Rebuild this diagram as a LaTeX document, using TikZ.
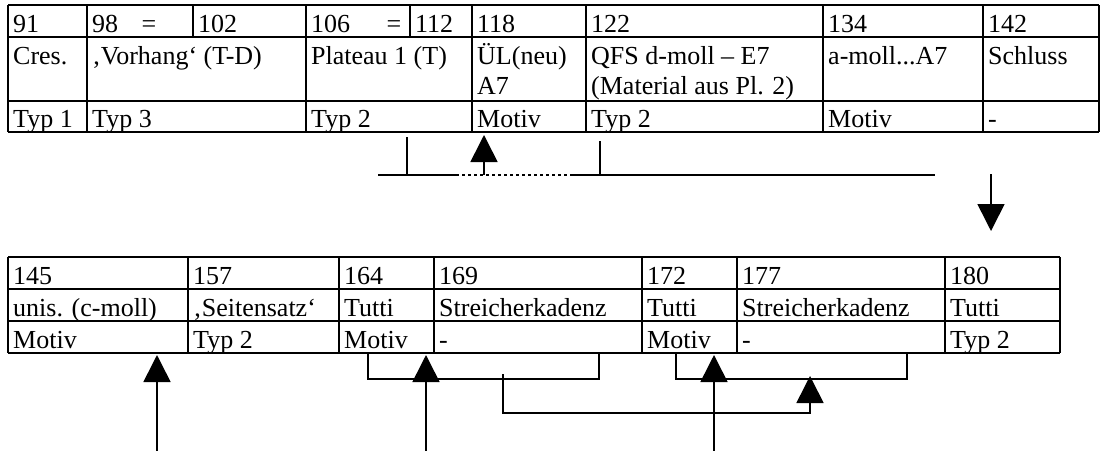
\documentclass[tikz,border=0pt]{standalone}
\usepackage{fontspec}
\setmainfont{Liberation Serif}
\usetikzlibrary{arrows.meta}
\tikzset{
  txt/.style={anchor=base west, inner sep=0pt, font=\fontsize{26}{30}\selectfont},
  grid/.style={line width=1.1pt, black},
  conn/.style={line width=1.6pt, black},
  dotconn/.style={line width=1.6pt, black, dash pattern=on 3pt off 3pt},
  tip/.style={-{Triangle[width=27pt,length=27pt]}}
}
\begin{document}
\begin{tikzpicture}[x=1pt,y=-1pt]
\useasboundingbox (0,0) rectangle (1108,450);
% ---------- top table ----------
\foreach \yy in {5,37,101,132} \draw[grid] (8,\yy) -- (1099,\yy);
\foreach \xx in {8,87,306,472,586,823,983,1099} \draw[grid] (\xx,5) -- (\xx,132);
\foreach \xx in {193,410} \draw[grid] (\xx,5) -- (\xx,37);
% row 1
\node[txt] (a1) at (13,32) {91};
\node[txt] (a2) at (92,32) {98\hspace{0.9em}=};
\node[txt] (a3) at (198,32) {102};
\node[txt] (a4) at (311,32) {106\hspace{1.4em}=};
\node[txt] (a5) at (415,32) {112};
\node[txt] (a6) at (477,32) {118};
\node[txt] (a7) at (591,32) {122};
\node[txt] (a8) at (828,32) {134};
\node[txt] (a9) at (988,32) {142};
% row 2
\node[txt] (b1) at (13,64) {Cres.};
\node[txt] (b2) at (92,64) {‚Vorhang‘ (T-D)};
\node[txt] (b3) at (311,64) {Plateau 1 (T)};
\node[txt] (b4) at (477,64) {ÜL(neu)};
\node[txt] (b4b) at (477,94) {A7};
\node[txt] (b5) at (591,64) {QFS d-moll – E7};
\node[txt] (b5b) at (591,94) {(Material aus Pl. 2)};
\node[txt] (b6) at (828,64) {a-moll...A7};
\node[txt] (b7) at (988,64) {Schluss};
% row 3
\node[txt] (c1) at (13,127) {Typ 1};
\node[txt] (c2) at (92,127) {Typ 3};
\node[txt] (c3) at (311,127) {Typ 2};
\node[txt] (c4) at (477,127) {Motiv};
\node[txt] (c5) at (591,127) {Typ 2};
\node[txt] (c6) at (828,127) {Motiv};
\node[txt] (c7) at (988,127) {-};
% ---------- middle connectors ----------
\coordinate (h1) at (378,175);
\coordinate (h2) at (456,175);
\coordinate (h3) at (570,175);
\coordinate (h4) at (935,175);
\coordinate (k1t) at (407,137);
\coordinate (k1b) at (407,175);
\coordinate (k2t) at (600,141);
\coordinate (k2b) at (600,175);
\coordinate (u1b) at (484,175);
\coordinate (u1t) at (484,135);
\coordinate (d1t) at (991,174);
\coordinate (d1b) at (991,231);
\draw[conn] (h1) -- (h2);
\draw[dotconn] (h2) -- (h3);
\draw[conn] (h3) -- (h4);
\draw[conn] (k1t) -- (k1b);
\draw[conn] (k2t) -- (k2b);
\draw[conn,tip] (u1b) -- (u1t);
\draw[conn,tip] (d1t) -- (d1b);
% ---------- bottom table ----------
\foreach \yy in {257,289,321,353} \draw[grid] (8,\yy) -- (1060,\yy);
\foreach \xx in {8,188,339,434,642,737,945,1060} \draw[grid] (\xx,257) -- (\xx,353);
% row 1
\node[txt] (p1) at (13,284) {145};
\node[txt] (p2) at (193,284) {157};
\node[txt] (p3) at (344,284) {164};
\node[txt] (p4) at (439,284) {169};
\node[txt] (p5) at (647,284) {172};
\node[txt] (p6) at (742,284) {177};
\node[txt] (p7) at (950,284) {180};
% row 2
\node[txt] (q1) at (13,316) {unis. (c-moll)};
\node[txt] (q2) at (193,316) {‚Seitensatz‘};
\node[txt] (q3) at (344,316) {Tutti};
\node[txt] (q4) at (439,316) {Streicherkadenz};
\node[txt] (q5) at (647,316) {Tutti};
\node[txt] (q6) at (742,316) {Streicherkadenz};
\node[txt] (q7) at (950,316) {Tutti};
% row 3
\node[txt] (r1) at (13,348) {Motiv};
\node[txt] (r2) at (193,348) {Typ 2};
\node[txt] (r3) at (344,348) {Motiv};
\node[txt] (r4) at (439,348) {-};
\node[txt] (r5) at (647,348) {Motiv};
\node[txt] (r6) at (742,348) {-};
\node[txt] (r7) at (950,348) {Typ 2};
% ---------- bottom connectors ----------
\coordinate (v1b) at (157,451);
\coordinate (v1t) at (157,355);
\coordinate (v2b) at (426,451);
\coordinate (v2t) at (426,355);
\coordinate (v3b) at (714,451);
\coordinate (v3t) at (714,355);
\coordinate (br1a) at (368,353);
\coordinate (br1b) at (368,379);
\coordinate (br1c) at (599,379);
\coordinate (br1d) at (599,353);
\coordinate (br2a) at (676,353);
\coordinate (br2b) at (676,379);
\coordinate (br2c) at (907,379);
\coordinate (br2d) at (907,353);
\coordinate (lk1) at (503,374);
\coordinate (lk2) at (503,413);
\coordinate (lk3) at (810,413);
\coordinate (lk4) at (810,376);
\draw[conn] (br1a) -- (br1b) -- (br1c) -- (br1d);
\draw[conn] (br2a) -- (br2b) -- (br2c) -- (br2d);
\draw[conn,tip] (lk1) -- (lk2) -- (lk3) -- (lk4);
\draw[conn,tip] (v1b) -- (v1t);
\draw[conn,tip] (v2b) -- (v2t);
\draw[conn,tip] (v3b) -- (v3t);
\end{tikzpicture}
\end{document}
